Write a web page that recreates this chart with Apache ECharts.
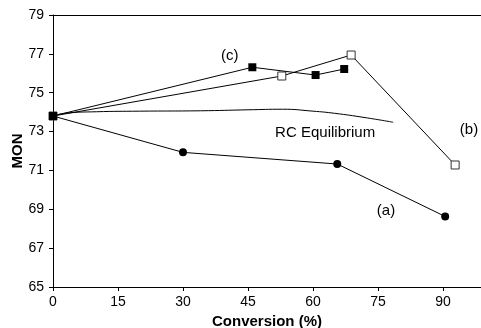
<!DOCTYPE html>
<html><head><meta charset="utf-8">
<script src="https://cdn.jsdelivr.net/npm/echarts@6/dist/echarts.min.js"></script>
<style>html,body{margin:0;padding:0;background:#fff}#c{width:481px;height:328px}</style>
</head><body><div id="c"></div>
<script>
var xTicks = [0, 15, 30, 45, 60, 75, 90];
var yTicks = [65, 67, 69, 71, 73, 75, 77, 79];
var seriesA = [[0, 73.8], [30, 71.93], [65.6, 71.33], [90.5, 68.63]];
var seriesB = [[0, 73.8], [52.8, 75.86], [68.8, 76.94], [92.8, 71.28]];
var seriesC = [[0, 73.8], [46.0, 76.31], [60.6, 75.91], [67.2, 76.22]];
var equilibrium = [[0, 73.8], [3, 73.95], [10, 74.02], [20, 74.05], [34, 74.07], [45, 74.12], [53, 74.15], [60, 74.05], [65, 73.94], [72, 73.72], [78.5, 73.48]];
var annotations = [
  {text: '(c)', pos: [40.8, 76.89]},
  {text: '(b)', pos: [96.0, 73.08]},
  {text: '(a)', pos: [76.85, 68.91]},
  {text: 'RC Equilibrium', pos: [62.8, 72.93]}
];

var chart = echarts.init(document.getElementById('c'));
var font = 'Liberation Sans, Arial, sans-serif';
chart.setOption({
  animation: false,
  grid: {left: 53, top: 15, right: 0, bottom: 41, containLabel: false, outerBoundsMode: 'none'},
  xAxis: [{
    type: 'value', min: 0, max: 98.77, interval: 15,
    axisLine: {show: true, lineStyle: {color: '#000', width: 1}},
    axisTick: {show: true, length: 4, lineStyle: {color: '#000'}, customValues: xTicks},
    axisLabel: {color: '#000', fontSize: 14, fontFamily: font, margin: 8, customValues: xTicks},
    splitLine: {show: false},
    name: 'Conversion (%)', nameLocation: 'middle', nameGap: 27,
    nameTextStyle: {color: '#000', fontSize: 15, fontWeight: 'bold', fontFamily: font}
  }, {
    type: 'value', position: 'top', min: 0, max: 98.77,
    axisLine: {show: true, lineStyle: {color: '#000', width: 1}},
    axisTick: {show: false}, axisLabel: {show: false}, splitLine: {show: false}
  }],
  yAxis: {
    type: 'value', min: 65, max: 79, interval: 2,
    axisLine: {show: true, lineStyle: {color: '#000', width: 1}},
    axisTick: {show: true, length: 4, lineStyle: {color: '#000'}},
    axisLabel: {color: '#000', fontSize: 14, fontFamily: font, margin: 9},
    splitLine: {show: false},
    name: 'MON', nameLocation: 'middle', nameGap: 28, nameRotate: 90, nameMoveOverlap: false,
    nameTextStyle: {color: '#000', fontSize: 15, fontWeight: 'bold', fontFamily: font}
  },
  series: [
    {type: 'line', data: equilibrium, smooth: true, showSymbol: false, symbol: 'none',
      lineStyle: {color: '#000', width: 1}, z: 1},
    {type: 'line', data: seriesA, symbol: 'circle', symbolSize: 8,
      lineStyle: {color: '#000', width: 1}, itemStyle: {color: '#000'}, z: 2},
    {type: 'line', data: seriesB, symbol: 'rect', symbolSize: 8,
      lineStyle: {color: '#000', width: 1}, itemStyle: {color: '#fff', borderColor: '#333', borderWidth: 1}, z: 3},
    {type: 'line', data: seriesC, symbol: 'rect', symbolSize: 8,
      lineStyle: {color: '#000', width: 1}, itemStyle: {color: '#000'}, z: 4},
    {type: 'scatter', symbolSize: 1, silent: true,
      itemStyle: {color: 'rgba(0,0,0,0)', opacity: 1},
      data: annotations.map(function (a) { return {value: a.pos, name: a.text}; }),
      label: {show: true, position: 'inside', formatter: '{b}', color: '#000', opacity: 1, fontSize: 15, fontFamily: font}, z: 5}
  ]
});
</script></body></html>
